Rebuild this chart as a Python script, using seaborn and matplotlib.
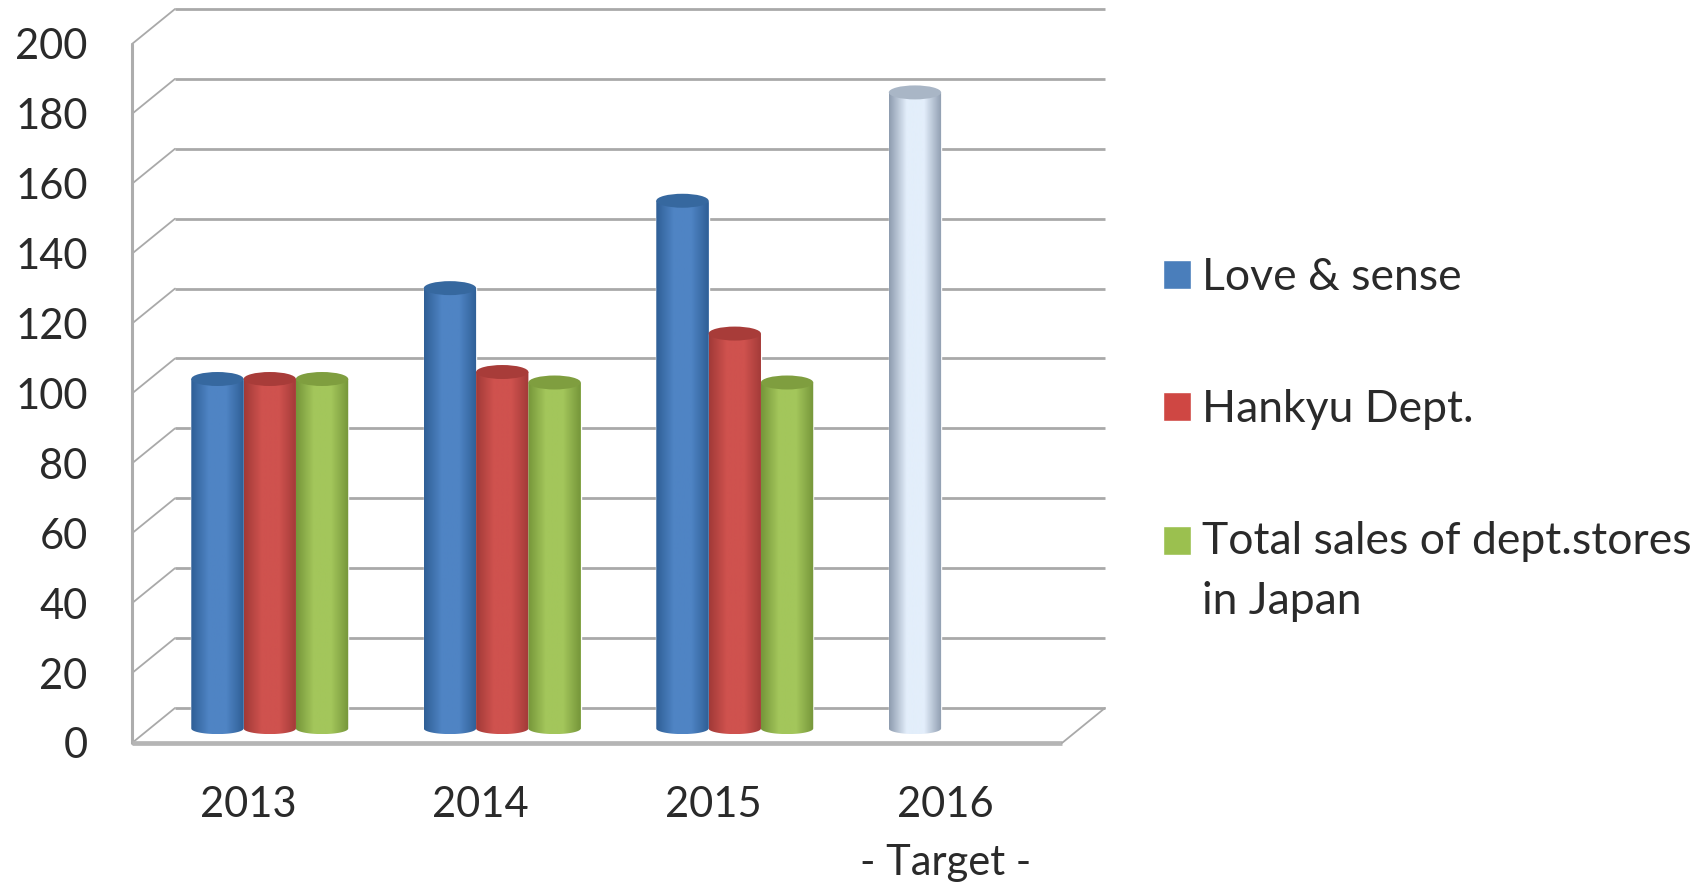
import matplotlib
matplotlib.use("Agg")
import numpy as np
import pandas as pd
import seaborn as sns
import matplotlib.pyplot as plt
from matplotlib.patches import Ellipse, PathPatch
from matplotlib.path import Path
from matplotlib.transforms import ScaledTranslation
from matplotlib.colors import LinearSegmentedColormap

years = ["2013", "2014", "2015", "2016\n- Target -"]
series_names = ["Love & sense", "Hankyu Dept.", "Total sales of dept.stores\nin Japan"]
love_sense = [100, 126, 151, 182]
hankyu = [100, 102, 113, np.nan]
total_sales = [100, 99, 99, np.nan]
y_ticks = list(range(0, 201, 20))

swatch_colors = ["#4a7ebb", "#cf4743", "#9bc04f"]
edge_colors = ["#2f5f96", "#a23a38", "#76963a"]
mid_colors = ["#4f84c4", "#cf524e", "#a3c65b"]
top_colors = ["#36689f", "#a83c39", "#7f9e3f"]
target_colors = ("#8f9db0", "#e3eefb", "#a9b6c6")

W, H = 1707, 886
sns.set_theme(style="white")
plt.rcParams["font.family"] = ["Lato", "DejaVu Sans"]
fig = plt.figure(figsize=(W / 100, H / 100), dpi=100)


def rect(x0, x1, ytop, ybot):
    return [x0 / W, 1 - ybot / H, (x1 - x0) / W, (ybot - ytop) / H]


# front plane axes: carries ticks and labels
ax_front = fig.add_axes(rect(132, 1062, 44, 743), zorder=1)
ax_front.patch.set_visible(False)
ax_front.set_xlim(-0.5, 3.5)
ax_front.set_ylim(0, 200)
for s in ax_front.spines.values():
    s.set_visible(False)
ax_front.set_yticks(y_ticks)
ax_front.set_xticks(range(len(years)))
ax_front.set_xticklabels(years, linespacing=1.65)
ax_front.tick_params(axis="y", length=0, pad=32, labelsize=30, labelcolor="#2a2a2a")
ax_front.tick_params(axis="x", length=0, pad=31, labelsize=30, labelcolor="#2a2a2a")

# depth offset of the 3D box
back = ax_front.transData + ScaledTranslation(43 / 100, 35 / 100, fig.dpi_scale_trans)
grid_c = "#a9a9a9"
for v in y_ticks:
    ax_front.plot([-0.5, 3.5], [v, v], transform=back, color=grid_c, lw=2.0,
                  clip_on=False, solid_capstyle="butt")
    x0, y0 = ax_front.transData.transform((-0.5, v))
    ax_front.plot([x0, x0 + 43], [y0, y0 + 35], transform=None, color=grid_c, lw=1.3, clip_on=False)
ax_front.plot([-0.5, -0.5], [0, 200], color="#adadad", lw=2.2, clip_on=False)
ax_front.plot([-0.5, 3.5], [0, 0], color="#b5b5b5", lw=3.4, clip_on=False, solid_capstyle="butt")
x1, y1 = ax_front.transData.transform((3.5, 0))
ax_front.plot([x1, x1 + 43], [y1, y1 + 35], transform=None, color=grid_c, lw=1.3, clip_on=False)

# bars, in a plane halfway through the depth
df = pd.DataFrame({
    "year": years * 3,
    "series": [n for n in series_names for _ in years],
    "value": love_sense + hankyu + total_sales,
})
ax = fig.add_axes(rect(153.5, 1083.5, 29.5, 728.5), zorder=2)
ax.patch.set_visible(False)
sns.barplot(data=df, x="year", y="value", hue="series", hue_order=series_names,
            palette=swatch_colors, width=0.675, gap=0, saturation=1, ax=ax)
ax.set_xlim(-0.5, 3.5)
ax.set_ylim(0, 200)
ax.set_xlabel("")
ax.set_ylabel("")
ax.set_xticks([])
ax.set_yticks([])
for s in ax.spines.values():
    s.set_visible(False)

handles, labels = ax.get_legend_handles_labels()
if ax.get_legend():
    ax.get_legend().remove()
leg = fig.legend(handles, labels, loc="upper left", bbox_to_anchor=(1163 / W, 1 - 257 / H),
                 bbox_transform=fig.transFigure, frameon=False, fontsize=32,
                 handlelength=0.63, handleheight=0.63, handletextpad=0.25,
                 labelspacing=2.05, labelcolor="#2a2a2a", borderpad=0, borderaxespad=0)
for t in leg.get_texts():
    t.set_linespacing(1.57)
# the swatch of the two-line entry sits beside its first line
hnd = leg.legend_handles[2]
hnd.set_y(hnd.get_y() + 23.0)

# shade each bar as a cylinder
ell_h = 4.0
bot_h = 1.6
for i, cont in enumerate(ax.containers):
    for j, bar in enumerate(cont):
        if bar.get_height() != bar.get_height():
            continue
        if i == 0 and j == 3:
            edge, mid, top = target_colors
        else:
            edge, mid, top = edge_colors[i], mid_colors[i], top_colors[i]
        x = bar.get_x()
        w = bar.get_width()
        h = bar.get_height()
        cmap = LinearSegmentedColormap.from_list("c", [edge, mid, mid, edge], N=64)
        ramp = np.linspace(0, 1, 64).reshape(1, -1)
        theta = np.linspace(np.pi, 2 * np.pi, 40)
        verts = [(x, h), (x, 0)]
        verts += list(zip(x + w / 2 + w / 2 * np.cos(theta), bot_h * np.sin(theta)))
        verts += [(x + w, h), (x, h)]
        outline = Path(verts, closed=True)
        im = ax.imshow(ramp, extent=(x, x + w, -bot_h, h), aspect="auto", cmap=cmap, zorder=4,
                       interpolation="bilinear")
        im.set_clip_box(fig.bbox)
        im.set_clip_path(PathPatch(outline, transform=ax.transData))
        ax.add_patch(Ellipse((x + w / 2, h), w, ell_h, facecolor=top, edgecolor="none", zorder=6))
ax.set_xlim(-0.5, 3.5)
ax.set_ylim(0, 200)

fig.savefig("out.png", dpi=100, facecolor="white")
